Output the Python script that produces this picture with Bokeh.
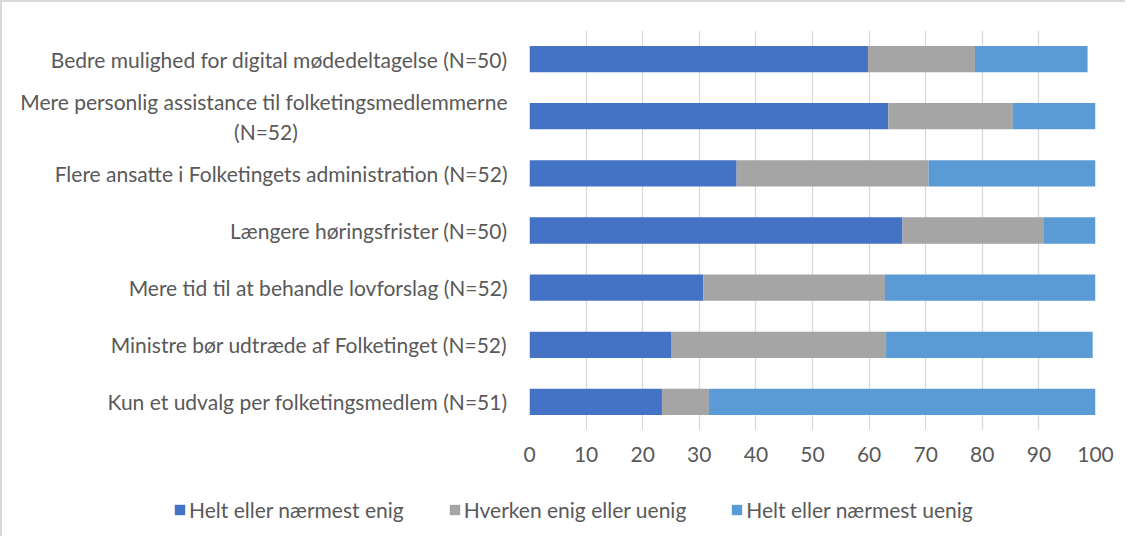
from bokeh.plotting import figure
from bokeh.models import Range1d, Legend, LegendItem, FactorRange, FixedTicker
from bokeh.embed import file_html
from bokeh.resources import INLINE

NBSP = "\u00a0"
categories = [
    "Bedre mulighed for digital mødedeltagelse (N=50)",
    "Mere personlig assistance til folketingsmedlemmerne\n(N=52)" + NBSP * 39,
    "Flere ansatte i Folketingets administration (N=52)",
    "Længere høringsfrister (N=50)",
    "Mere tid til at behandle lovforslag (N=52)",
    "Ministre bør udtræde af Folketinget (N=52)",
    "Kun et udvalg per folketingsmedlem (N=51)",
]
enig = [59.8, 63.4, 36.6, 65.9, 30.7, 25.0, 23.4]
hverken = [18.9, 22.0, 33.9, 25.0, 32.1, 38.0, 8.3]
uenig = [19.9, 14.6, 29.5, 9.1, 37.2, 36.5, 68.6]
series_names = ["Helt eller nærmest enig", "Hverken enig eller uenig", "Helt eller nærmest uenig"]
colors = ["#4472C4", "#A5A5A5", "#5B9BD5"]
x_ticks = [0, 10, 20, 30, 40, 50, 60, 70, 80, 90, 100]

FONT = "Lato"
FS = "21px"
TXT = "#595959"
BORDER = "2px solid #d9d9d9"

data = dict(cat=categories, enig=enig, hverken=hverken, uenig=uenig)

p = figure(
    y_range=FactorRange(factors=list(reversed(categories))),
    x_range=Range1d(0, 100),
    frame_width=566, frame_height=400,
    min_border_left=527, min_border_top=28, min_border_right=30, min_border_bottom=50,
    output_backend="svg", toolbar_location=None,
    styles={"border-top": BORDER, "border-left": BORDER},
)

p.hbar_stack(["enig", "hverken", "uenig"], y="cat", height=0.46,
             color=colors, line_color=None, source=data)

p.outline_line_color = None
p.ygrid.grid_line_color = None
p.xgrid.grid_line_color = "#d9d9d9"
p.xgrid.grid_line_width = 1.3
p.xaxis.ticker = FixedTicker(ticks=x_ticks)

for ax in (p.xaxis, p.yaxis):
    ax.axis_line_color = None
    ax.major_tick_line_color = None
    ax.minor_tick_line_color = None
    ax.major_tick_out = 0
    ax.major_tick_in = 0
    ax.major_label_text_font = FONT
    ax.major_label_text_font_size = FS
    ax.major_label_text_color = TXT

p.xaxis.major_label_standoff = 16
p.yaxis.major_label_standoff = 22

# legend strip below the chart (legend-only renderers with no drawable values)
q = figure(
    width=1123, height=56, x_range=Range1d(0, 1), y_range=Range1d(0, 1),
    min_border=0, x_axis_type=None, y_axis_type=None,
    output_backend="svg", toolbar_location=None,
    styles={"border-left": BORDER},
)
q.outline_line_color = None
q.xgrid.visible = False
q.ygrid.visible = False
nan = float("nan")
leg_renderers = [q.hbar(y=[nan], right=[nan], height=0.5, color=c, line_color=None) for c in colors]

legend = Legend(
    items=[LegendItem(label=n, renderers=[r]) for n, r in zip(series_names, leg_renderers)],
    orientation="horizontal", location=(171, 14),
    glyph_width=13, glyph_height=13, label_standoff=3, spacing=44,
    padding=0, margin=0, border_line_color=None, background_fill_alpha=0,
    label_text_font=FONT, label_text_font_size=FS, label_text_color=TXT,
)
q.add_layout(legend)

open("out.html", "w").write(file_html([p, q], INLINE))
